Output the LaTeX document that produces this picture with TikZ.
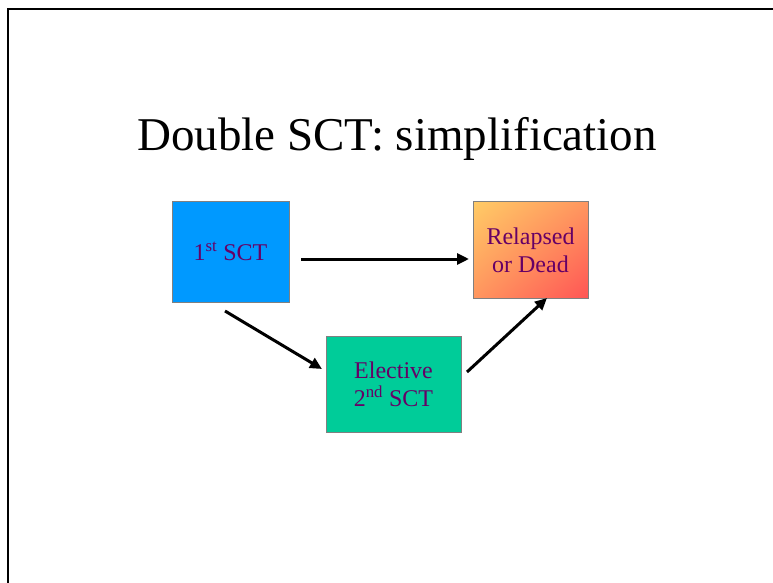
\documentclass[tikz,border=0pt]{standalone}
\usepackage{fontspec}
\setmainfont{Liberation Serif}
\usetikzlibrary{arrows.meta,shadings}
\definecolor{boxblue}{RGB}{0,153,255}
\definecolor{boxgreen}{RGB}{0,204,153}
\definecolor{boxtext}{RGB}{102,0,102}
\definecolor{boxedge}{RGB}{128,128,128}
\definecolor{hotA}{RGB}{255,204,102}
\definecolor{hotB}{RGB}{255,150,95}
\definecolor{hotC}{RGB}{255,85,85}
\begin{document}
\begin{tikzpicture}[x=1pt,y=-1pt,
  stagebox/.style={draw=boxedge, line width=1pt, inner sep=0pt, text=boxtext,
    font=\fontsize{24}{28}\selectfont, align=center},
  flow/.style={line width=3pt, -{Triangle[length=12pt,width=11pt]}}]
\useasboundingbox (0,0) rectangle (773,583);
\fill[white] (0,0) rectangle (773,583);
% slide frame
\draw[line width=2pt] (8,583) -- (8,9) -- (773,9);
% title
\node[font=\fontsize{47}{52}\selectfont] (title) at (397,139) {Double SCT: simplification};
% stages
\node[stagebox, fill=boxblue, minimum width=117pt, minimum height=101pt] (first) at (230.5,251.5)
  {1\textsuperscript{st} SCT};
\shade[upper left=hotA, upper right=hotB, lower left=hotB, lower right=hotC]
  (473,201) rectangle (588,298);
\node[stagebox, minimum width=115pt, minimum height=97pt] (relapse) at (530.5,250)
  {Relapsed\\or Dead};
\node[stagebox, fill=boxgreen, minimum width=135pt, minimum height=96pt] (second) at (393.5,384)
  {Elective\\2\textsuperscript{nd} SCT};
% transitions
\coordinate (a1) at (301,259);
\coordinate (a2) at (469,259);
\coordinate (b1) at (225,311);
\coordinate (b2) at (322,369);
\coordinate (c1) at (467,372);
\coordinate (c2) at (547,298);
\draw[flow] (a1) -- (a2);
\draw[flow] (b1) -- (b2);
\draw[flow] (c1) -- (c2);
\end{tikzpicture}
\end{document}
